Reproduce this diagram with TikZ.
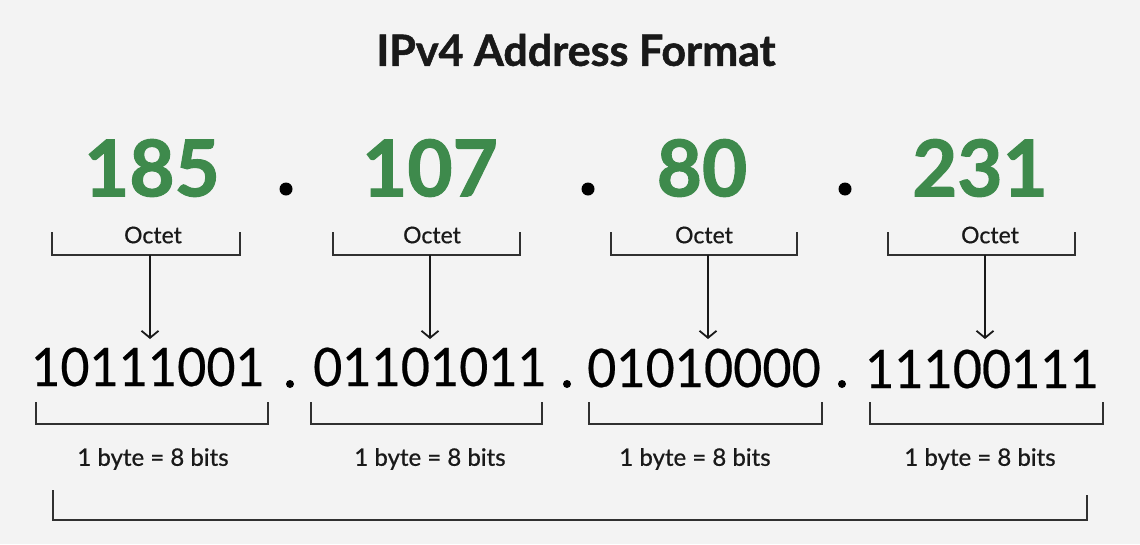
\documentclass[tikz,border=0pt]{standalone}
\usepackage{fontspec}
\setmainfont{Lato}
\usetikzlibrary{arrows.meta}
\definecolor{bg}{RGB}{243,243,243}
\definecolor{ipgreen}{RGB}{62,138,76}
\definecolor{ink}{RGB}{25,25,25}
\newcommand{\narrow}[1]{\scalebox{0.95}[1]{#1}}
\tikzset{
  title/.style={font=\bfseries\fontsize{43}{46}\selectfont\addfontfeatures{FakeBold=1.2}, text=ink},
  dec/.style={font=\bfseries\fontsize{78}{82}\selectfont\addfontfeatures{FakeBold=1.5}, text=ipgreen, inner sep=0pt},
  bigdot/.style={circle, fill=black, inner sep=0pt, minimum size=13pt},
  octlbl/.style={font=\fontsize{23}{26}\selectfont\addfontfeatures{FakeBold=0.6}, text=ink, inner sep=0pt},
  bin/.style={font=\fontsize{53}{58}\selectfont\addfontfeatures{FakeBold=0.4}, text=black, inner sep=0pt},
  smalldot/.style={circle, fill=black, inner sep=0pt, minimum size=8pt},
  bytelbl/.style={font=\fontsize{24}{28}\selectfont\addfontfeatures{FakeBold=0.8}, text=ink, inner sep=0pt},
  brk/.style={draw=ink!90, line width=2.3pt},
  arr/.style={draw=ink, line width=1.8pt, -{Straight Barb[length=7pt,width=17pt,line width=1.8pt]}}
}
\begin{document}
\begin{tikzpicture}[x=1pt,y=-1pt]
\fill[bg] (0,0) rectangle (1140,544);
\useasboundingbox (0,0) rectangle (1140,544);

\node[title] (t) at (576,50) {IPv4 Address Format};

\node[dec] (n1) at (152,168) {185};
\node[dec] (n2) at (430,168) {107};
\node[dec] (n3) at (702,168) {80};
\node[dec] (n4) at (980,168) {231};
\node[bigdot] (d1) at (286,189) {};
\node[bigdot] (d2) at (588,189) {};
\node[bigdot] (d3) at (845,189) {};

% octet brackets
\foreach \i/\l/\r/\c in {1/52/240/150, 2/333/520/430, 3/611/797/708, 4/888/1075/985}{
  \coordinate (ol\i) at (\l,232);
  \coordinate (or\i) at (\r,232);
  \coordinate (oc\i) at (\c,255);
  \coordinate (oa\i) at (\c,339);
  \draw[brk] (ol\i) |- (oc\i) -| (or\i);
  \draw[arr] (oc\i) -- (oa\i);
}
\node[octlbl] (o1) at (153,235) {Octet};
\node[octlbl] (o2) at (432,235) {Octet};
\node[octlbl] (o3) at (704,235) {Octet};
\node[octlbl] (o4) at (990,235) {Octet};

% binary
\node[bin] (b1) at (148,367) {\narrow{10111001}};
\node[bin] (b2) at (430,367) {\narrow{01101011}};
\node[bin] (b3) at (704,368) {\narrow{01010000}};
\node[bin] (b4) at (982,369) {\narrow{11100111}};
\node[smalldot] (s1) at (290,384) {};
\node[smalldot] (s2) at (567,384) {};
\node[smalldot] (s3) at (842,384) {};

% byte brackets
\foreach \i/\l/\r in {1/36/268, 2/311/542, 3/589/822, 4/870/1103}{
  \coordinate (bl\i) at (\l,402);
  \coordinate (br\i) at (\r,402);
  \draw[brk] (bl\i) -- ++(0,22) -| (br\i);
}
\node[bytelbl] (y1) at (153,459) {1 byte = 8 bits};
\node[bytelbl] (y2) at (430,459) {1 byte = 8 bits};
\node[bytelbl] (y3) at (695,459) {1 byte = 8 bits};
\node[bytelbl] (y4) at (980,459) {1 byte = 8 bits};

% whole address bracket
\coordinate (wl) at (53,490);
\coordinate (wr) at (1087,495);
\draw[brk] (wl) |- (570,520) -| (wr);
\end{tikzpicture}
\end{document}
